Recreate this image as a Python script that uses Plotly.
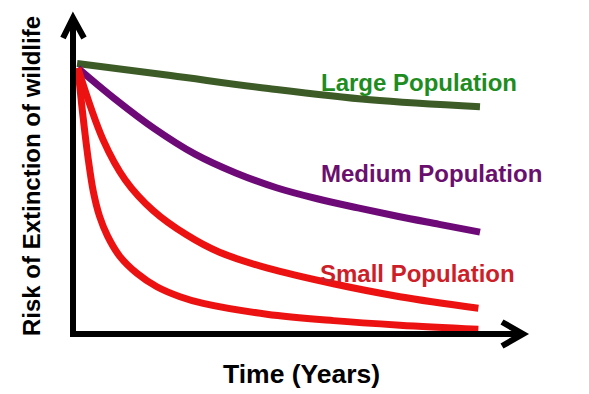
import plotly.graph_objects as go

# ---- data (time in arbitrary years 0..10, risk 0..100) ----
large_t = [0.1, 2.4, 4.8, 7.3, 10.0]
large_r = [100.2, 95.7, 90.9, 86.7, 84.1]

medium_t = [0.12, 1.0, 2.0, 3.0, 4.0, 5.0, 6.0, 7.0, 8.0, 9.0, 10.0]
medium_r = [98.5, 87.4, 76.0, 66.5, 59.5, 54.0, 49.9, 46.5, 43.3, 40.4, 37.5]

small1_t = [0.12, 0.74, 1.28, 1.97, 2.79, 3.6, 4.76, 6.4, 8.03, 9.96]
small1_r = [98.5, 71.8, 57.0, 45.5, 36.5, 30.0, 24.2, 18.3, 13.5, 9.2]

small2_t = [0.12, 0.25, 0.38, 0.5, 0.65, 0.85, 1.15, 1.57, 2.06, 2.63, 3.2, 4.76, 6.4, 8.03, 9.96]
small2_r = [98.5, 80.0, 64.0, 52.5, 43.5, 36.0, 28.5, 22.2, 17.2, 13.5, 11.0, 7.0, 4.6, 2.9, 1.4]

labels = ["Large Population", "Medium Population", "Small Population"]
x_title = "Time (Years)"
y_title = "Risk of Extinction of wildlife"

# ---- layout helpers ----
W, H = 589, 394
PX_PER_T = 40.7
PX_PER_R = 2.69
X0_PX, Y0_PX = 73, 333
x_range = [-X0_PX / PX_PER_T, (W - X0_PX) / PX_PER_T]
y_range = [(Y0_PX - H) / PX_PER_R, Y0_PX / PX_PER_R]


def tx(px):
    return (px - X0_PX) / PX_PER_T


def ry(py):
    return (Y0_PX - py) / PX_PER_R


FONT = "Arial, Liberation Sans, sans-serif"

fig = go.Figure()

series = [
    (large_t, large_r, "#3d5b27"),
    (medium_t, medium_r, "#6e0a78"),
    (small1_t, small1_r, "#ec1212"),
    (small2_t, small2_r, "#ec1212"),
]
for t, r, c in series:
    fig.add_trace(go.Scatter(x=t, y=r, mode="lines",
                             line=dict(color=c, width=7, shape="spline", smoothing=1.0),
                             hoverinfo="skip", showlegend=False))

# axes with arrows
ax_w = 6
shapes = [
    dict(type="line", x0=0, y0=ry(337), x1=0, y1=ry(20)),
    dict(type="path", path=f"M {tx(63)} {ry(38)} L 0 {ry(18)} L {tx(84)} {ry(38)}"),
    dict(type="line", x0=tx(70), y0=ry(334), x1=tx(522), y1=ry(334)),
    dict(type="path", path=f"M {tx(502)} {ry(322)} L {tx(523)} {ry(334)} L {tx(502)} {ry(346)}"),
]
for s in shapes:
    s.update(xref="x", yref="y", line=dict(color="black", width=ax_w))
    fig.add_shape(**s)

label_colors = ["#1e8c1e", "#6a0f6e", "#cc1f2a"]
label_pos = [(tx(319), ry(82)), (tx(319), ry(173)), (tx(318), ry(273))]
for text, col, (x, y) in zip(labels, label_colors, label_pos):
    fig.add_annotation(x=x, y=y, xref="x", yref="y", text=text, showarrow=False,
                       xanchor="left", yanchor="middle",
                       font=dict(family=FONT, size=24, color=col, weight="bold"))

fig.add_annotation(x=tx(301), y=ry(374), xref="x", yref="y", text=x_title, showarrow=False,
                   xanchor="center", yanchor="middle",
                   font=dict(family=FONT, size=26.5, color="black", weight="bold"))
fig.add_annotation(x=tx(31), y=ry(176), xref="x", yref="y", text=y_title, showarrow=False,
                   textangle=-90, xanchor="center", yanchor="middle",
                   font=dict(family=FONT, size=24, color="black", weight="bold"))

fig.update_layout(
    width=W, height=H,
    margin=dict(l=0, r=0, t=0, b=0),
    paper_bgcolor="white", plot_bgcolor="white",
    xaxis=dict(range=x_range, visible=False, fixedrange=True),
    yaxis=dict(range=y_range, visible=False, fixedrange=True),
    showlegend=False,
)

fig.write_html("out.html")
